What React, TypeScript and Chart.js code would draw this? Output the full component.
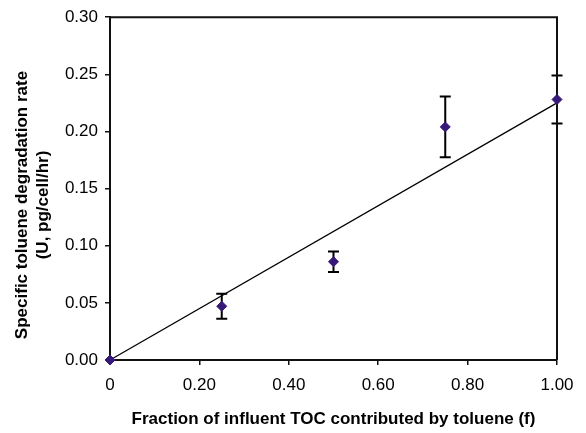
import React, { useEffect, useRef } from "react";
import { Chart, registerables } from "chart.js";

Chart.register(...registerables);

// ---- data ----
const fractions = [0, 0.25, 0.5, 0.75, 1.0];
const rates = [0, 0.047, 0.086, 0.204, 0.228];
const rateErrors = [0, 0.011, 0.009, 0.0265, 0.021];
const trendX = [0, 1];
const trendY = [0, 0.225];
const xTicks = [0, 0.2, 0.4, 0.6, 0.8, 1.0];
const yTicks = [0, 0.05, 0.1, 0.15, 0.2, 0.25, 0.3];
const xTitle = "Fraction of influent TOC contributed by toluene (f)";
const yTitleLines = ["Specific toluene degradation rate", "(U, pg/cell/hr)"];

const FONT = '"Liberation Sans", Arial, Helvetica, sans-serif';
const AXIS_COLOR = "#111111";
const POINT_COLOR = "#37197a";

const errorBarPlugin = {
  id: "errorBars",
  beforeDatasetsDraw(chart: any) {
    const { ctx, scales } = chart;
    const xs = scales.x;
    const ys = scales.y;
    ctx.save();
    ctx.strokeStyle = "#000";
    ctx.lineWidth = 2;
    const cap = 5.5;
    fractions.forEach((f, i) => {
      const e = rateErrors[i];
      if (!e) return;
      const px = xs.getPixelForValue(f);
      const top = ys.getPixelForValue(rates[i] + e);
      const bot = ys.getPixelForValue(rates[i] - e);
      ctx.beginPath();
      ctx.moveTo(px, top);
      ctx.lineTo(px, bot);
      ctx.moveTo(px - cap, top);
      ctx.lineTo(px + cap, top);
      ctx.moveTo(px - cap, bot);
      ctx.lineTo(px + cap, bot);
      ctx.stroke();
    });
    ctx.restore();
  },
};

const frameAndTitlesPlugin = {
  id: "frameAndTitles",
  beforeDatasetsDraw(chart: any) {
    const { ctx, chartArea } = chart;
    ctx.save();
    ctx.strokeStyle = AXIS_COLOR;
    ctx.lineWidth = 2;
    ctx.beginPath();
    ctx.moveTo(chartArea.left, chartArea.top);
    ctx.lineTo(chartArea.right, chartArea.top);
    ctx.lineTo(chartArea.right, chartArea.bottom);
    ctx.stroke();
    ctx.restore();
  },
  afterDraw(chart: any) {
    const { ctx, chartArea } = chart;
    ctx.save();
    ctx.fillStyle = "#000";
    ctx.font = `bold 17px ${FONT}`;
    ctx.textAlign = "center";
    ctx.textBaseline = "middle";
    ctx.fillText(xTitle, (chartArea.left + chartArea.right) / 2, 419);
    const lineX = [22, 43];
    yTitleLines.forEach((t, i) => {
      ctx.save();
      ctx.translate(lineX[i], 205);
      ctx.rotate(-Math.PI / 2);
      ctx.fillText(t, 0, 0);
      ctx.restore();
    });
    ctx.restore();
  },
};

export default function App() {
  const canvasRef = useRef<HTMLCanvasElement | null>(null);

  useEffect(() => {
    document.body.style.margin = "0";
    const canvas = canvasRef.current;
    if (!canvas) return;
    const chart = new Chart(canvas, {
      type: "scatter",
      data: {
        datasets: [
          {
            label: "Measured",
            data: fractions.map((f, i) => ({ x: f, y: rates[i] })),
            pointStyle: "rectRot",
            pointRadius: 5,
            pointHoverRadius: 5,
            backgroundColor: POINT_COLOR,
            borderColor: POINT_COLOR,
            borderWidth: 1,
            order: 0,
            clip: false,
          },
          {
            type: "line",
            label: "Trend",
            data: trendX.map((x, i) => ({ x, y: trendY[i] })),
            borderColor: "#000",
            borderWidth: 1.3,
            pointRadius: 0,
            fill: false,
            showLine: true,
            order: 1,
            clip: false,
          } as any,
        ],
      },
      options: {
        responsive: false,
        animation: false,
        devicePixelRatio: 1,
        layout: { padding: { top: 12, right: 29, bottom: 0, left: 0 } },
        plugins: {
          legend: { display: false },
          tooltip: { enabled: false },
          title: { display: false },
        },
        scales: {
          x: {
            type: "linear",
            min: 0,
            max: 1,
            afterBuildTicks: (scale: any) => {
              scale.ticks = xTicks.map((v) => ({ value: v }));
            },
            afterFit: (scale: any) => {
              scale.height = 73;
            },
            ticks: {
              autoSkip: false,
              maxRotation: 0,
              padding: 10,
              color: "#000",
              font: { family: FONT, size: 17 },
              callback: (v: any) => (Number(v) === 0 ? "0" : Number(v).toFixed(2)),
            },
            grid: {
              display: true,
              drawOnChartArea: false,
              drawTicks: true,
              tickLength: 5,
              color: AXIS_COLOR,
              lineWidth: 1.5,
            },
            border: { display: true, color: AXIS_COLOR, width: 2 },
          },
          y: {
            type: "linear",
            min: 0,
            max: 0.3,
            afterBuildTicks: (scale: any) => {
              scale.ticks = yTicks.map((v) => ({ value: v }));
            },
            afterFit: (scale: any) => {
              scale.width = 110;
            },
            ticks: {
              autoSkip: false,
              padding: 7,
              color: "#000",
              font: { family: FONT, size: 17 },
              callback: (v: any) => Number(v).toFixed(2),
            },
            grid: {
              display: true,
              drawOnChartArea: false,
              drawTicks: true,
              tickLength: 5,
              color: AXIS_COLOR,
              lineWidth: 1.5,
            },
            border: { display: true, color: AXIS_COLOR, width: 2 },
          },
        },
      },
      plugins: [errorBarPlugin, frameAndTitlesPlugin],
    });
    return () => chart.destroy();
  }, []);

  return (
    <div style={{ width: 586, height: 433 }}>
      <canvas ref={canvasRef} width={586} height={433} style={{ display: "block" }} />
    </div>
  );
}
